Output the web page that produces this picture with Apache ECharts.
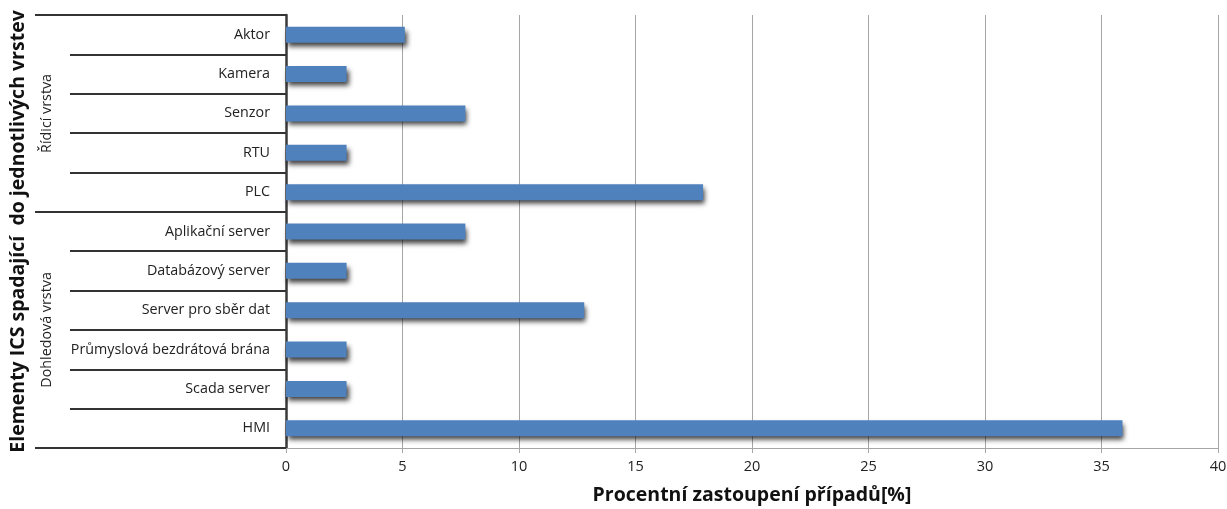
<!DOCTYPE html>
<html>
<head>
<meta charset="utf-8">
<style>
  html, body { margin: 0; padding: 0; background: #fff; }
  #chart { width: 1227px; height: 509px; }
</style>
<script src="https://cdn.jsdelivr.net/npm/echarts@6/dist/echarts.min.js"></script>
</head>
<body>
<div id="chart"></div>
<script>
// ICS elements, top to bottom
const categories = [
  'Aktor', 'Kamera', 'Senzor', 'RTU', 'PLC',
  'Aplikační server', 'Databázový server', 'Server pro sběr dat',
  'Průmyslová bezdrátová brána', 'Scada server', 'HMI'
];
// share of cases in percent
const shares = [5.1, 2.6, 7.7, 2.6, 17.9, 7.7, 2.6, 12.8, 2.6, 2.6, 35.9];
// layer groups: name, first index, last index
const groupNames = ['Řídicí vrstva', 'Dohledová vrstva'];
const groupStarts = [0, 5];
const groupEnds = [4, 10];
const xTicks = { min: 0, max: 40, interval: 5 };

const FONT = '"Open Sans", Lato, sans-serif';
const chart = echarts.init(document.getElementById('chart'), null, { renderer: 'canvas' });

const option = {
  animation: false,
  backgroundColor: '#ffffff',
  grid: { left: 286, right: 9, top: 15, bottom: 61, containLabel: false, outerBoundsMode: 'none' },
  xAxis: {
    type: 'value',
    min: xTicks.min, max: xTicks.max, interval: xTicks.interval,
    name: 'Procentní zastoupení případů[%]',
    nameLocation: 'middle',
    nameGap: 37,
    nameTextStyle: { fontFamily: FONT, fontSize: 19.5, fontWeight: 'bold', color: '#111' },
    axisLine: { show: true, lineStyle: { color: '#a6a6a6', width: 1 } },
    axisTick: { show: true, length: 5, lineStyle: { color: '#a6a6a6' } },
    axisLabel: { fontFamily: FONT, fontSize: 14.5, color: '#222', margin: 11 },
    splitLine: { show: true, lineStyle: { color: '#a6a6a6', width: 1 } }
  },
  yAxis: [
    {
      type: 'category',
      data: categories,
      inverse: true,
      name: 'Elementy ICS spadající  do jednotlivých vrstev',
      nameLocation: 'middle',
      nameRotate: 90,
      nameGap: 258,
      nameTextStyle: { fontFamily: FONT, fontSize: 19.5, fontWeight: 'bold', color: '#111' },
      axisLine: { show: true, lineStyle: { color: '#3a3a3a', width: 2.5 } },
      axisTick: { show: true, length: 216, lineStyle: { color: '#333', width: 2 } },
      axisLabel: { fontFamily: FONT, fontSize: 14.3, color: '#222', margin: 16 },
      splitLine: { show: false }
    },
    {
      // longer ticks at the layer boundaries
      type: 'category',
      data: categories,
      inverse: true,
      position: 'left',
      axisLine: { show: false },
      axisTick: {
        show: true, length: 251,
        interval: function (index) { return groupStarts.indexOf(index) >= 0; },
        lineStyle: { color: '#333', width: 2 }
      },
      axisLabel: { show: false },
      splitLine: { show: false }
    }
  ],
  series: [{
    type: 'bar',
    data: shares,
    yAxisIndex: 0,
    barWidth: 16,
    itemStyle: {
      color: '#4f81bd',
      shadowColor: 'rgba(0,0,0,0.75)',
      shadowBlur: 5,
      shadowOffsetX: 2,
      shadowOffsetY: 4
    }
  }]
};
chart.setOption(option);

// rotated layer names, centred on their group of categories
const groupLabels = groupNames.map(function (name, i) {
  const y0 = chart.convertToPixel({ yAxisIndex: 0 }, categories[groupStarts[i]]);
  const y1 = chart.convertToPixel({ yAxisIndex: 0 }, categories[groupEnds[i]]);
  return {
    type: 'text',
    x: 47,
    y: (y0 + y1) / 2,
    rotation: Math.PI / 2,
    style: {
      text: name,
      fontFamily: FONT,
      fontSize: 14.3,
      fill: '#222',
      align: 'center',
      verticalAlign: 'middle'
    }
  };
});
chart.setOption({ graphic: groupLabels });
</script>
</body>
</html>
